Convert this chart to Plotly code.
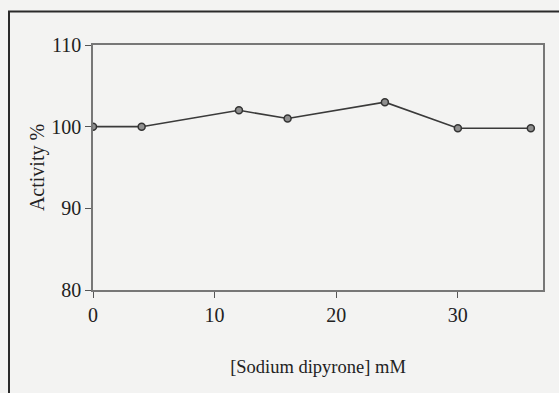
import plotly.graph_objects as go

concentration_mM = [0, 4, 12, 16, 24, 30, 36]
activity_pct = [100, 100, 102, 101, 103, 99.8, 99.8]
x_ticks = [0, 10, 20, 30]
y_ticks = [80, 90, 100, 110]

font_family = "Liberation Serif, Times New Roman, serif"

fig = go.Figure()
fig.add_trace(go.Scatter(
    x=concentration_mM, y=activity_pct, mode="lines+markers",
    line=dict(color="#3a3a3a", width=1.6),
    marker=dict(size=7, color="#8f8f8f", line=dict(color="#333333", width=1.5)),
    showlegend=False,
))

W, H = 559, 393
L, R, T, B = 93, 16, 45, 103
pw, ph = W - L - R, H - T - B

def px_x(p):
    return (p - L) / pw

def px_y(p):
    return (H - B - p) / ph

fig.add_shape(type="rect", xref="paper", yref="paper",
              x0=px_x(9), x1=px_x(600), y0=px_y(430), y1=px_y(11.5),
              line=dict(color="#2a2a2a", width=2), layer="below")

fig.update_layout(
    width=W, height=H,
    margin=dict(l=L, r=R, t=T, b=B),
    paper_bgcolor="#f3f3f2", plot_bgcolor="#f3f3f2",
    font=dict(family=font_family, color="#222222", size=20),
    xaxis=dict(
        range=[0, 37], tickvals=x_ticks, ticks="outside", ticklen=6,
        tickcolor="#555555", showline=True, linecolor="#777777", linewidth=1.5,
        mirror=True, showgrid=False, zeroline=False,
        tickfont=dict(size=20), title=dict(text="[Sodium dipyrone] mM", font=dict(size=18.5), standoff=35),
    ),
    yaxis=dict(
        range=[80, 110], tickvals=y_ticks, ticks="outside", ticklen=6,
        tickcolor="#555555", showline=True, linecolor="#777777", linewidth=1.5,
        mirror=True, showgrid=False, zeroline=False,
        tickfont=dict(size=20), title=dict(text="Activity %", font=dict(size=20), standoff=1),
    ),
)

fig.write_html("out.html", config={"displayModeBar": False},
               post_script="document.body.style.margin='0';document.body.style.background='#f3f3f2';")
